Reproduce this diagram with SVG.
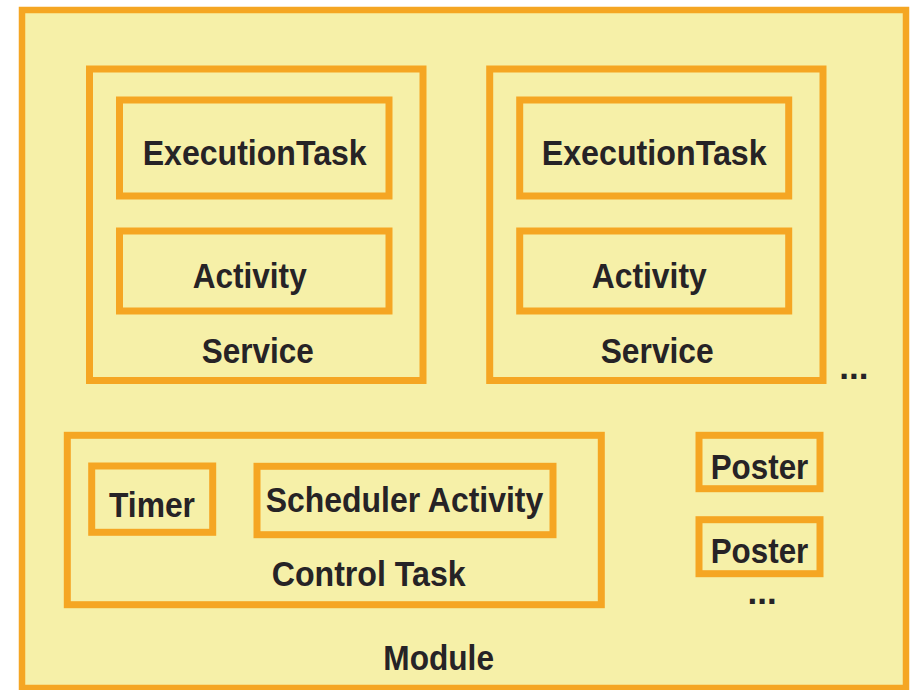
<svg xmlns="http://www.w3.org/2000/svg" width="916" height="690" viewBox="0 0 916 690">
<style>
.box{fill:#F6F0A8;stroke:#F5A623;stroke-width:7}
.outer{fill:#F6F0A8;stroke:#F5A623;stroke-width:6.5}
.t{font-family:"Liberation Sans",Arial,sans-serif;font-weight:bold;font-size:35px;fill:#262326}
</style>
<rect width="916" height="690" fill="#ffffff"/>
<g id="module">
<rect class="outer" x="22" y="10" width="884" height="678"/>
<text class="t" x="383.3" y="670" textLength="110.7" lengthAdjust="spacingAndGlyphs">Module</text>
</g>
<g id="service1">
<rect class="box" x="89.5" y="69" width="333.5" height="311.5"/>
<text class="t" x="201.7" y="362.7" textLength="112" lengthAdjust="spacingAndGlyphs">Service</text>
</g>
<g id="executiontask1">
<rect class="box" x="119.5" y="100" width="269.5" height="96"/>
<text class="t" x="142.7" y="165" textLength="224" lengthAdjust="spacingAndGlyphs">ExecutionTask</text>
</g>
<g id="activity1">
<rect class="box" x="119.5" y="231" width="269.5" height="80"/>
<text class="t" x="192.7" y="288.3" textLength="114" lengthAdjust="spacingAndGlyphs">Activity</text>
</g>
<g id="service2">
<rect class="box" x="489.7" y="69" width="333.3" height="311.5"/>
<text class="t" x="600.7" y="362.7" textLength="113" lengthAdjust="spacingAndGlyphs">Service</text>
</g>
<g id="executiontask2">
<rect class="box" x="519.7" y="100" width="269" height="96"/>
<text class="t" x="541.7" y="165" textLength="225" lengthAdjust="spacingAndGlyphs">ExecutionTask</text>
</g>
<g id="activity2">
<rect class="box" x="519.7" y="231" width="269" height="80"/>
<text class="t" x="591.7" y="288.3" textLength="115" lengthAdjust="spacingAndGlyphs">Activity</text>
</g>
<g id="more-services">
<text class="t" x="839.3" y="378.5">...</text>
</g>
<g id="controltask">
<rect class="box" x="67.3" y="435.3" width="534" height="169.4"/>
<text class="t" x="271.7" y="585.7" textLength="194" lengthAdjust="spacingAndGlyphs">Control Task</text>
</g>
<g id="timer">
<rect class="box" x="91.7" y="466" width="121" height="66.3"/>
<text class="t" x="109" y="516.7" textLength="86" lengthAdjust="spacingAndGlyphs">Timer</text>
</g>
<g id="scheduleractivity">
<rect class="box" x="257" y="466.3" width="296" height="68.4"/>
<text class="t" x="265.7" y="511.7" textLength="277.6" lengthAdjust="spacingAndGlyphs">Scheduler Activity</text>
</g>
<g id="poster1">
<rect class="box" x="699" y="435.3" width="121" height="53.4"/>
<text class="t" x="710.7" y="479.3" textLength="97.6" lengthAdjust="spacingAndGlyphs">Poster</text>
</g>
<g id="poster2">
<rect class="box" x="699" y="519.7" width="121" height="54"/>
<text class="t" x="710.7" y="563.3" textLength="97.6" lengthAdjust="spacingAndGlyphs">Poster</text>
</g>
<g id="more-posters">
<text class="t" x="747.6" y="604">...</text>
</g>
<g id="connectors"></g>
</svg>
